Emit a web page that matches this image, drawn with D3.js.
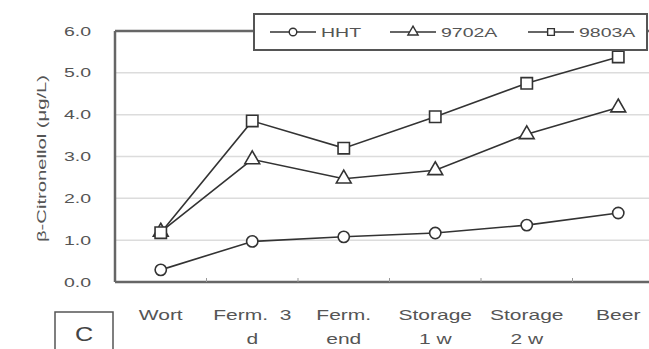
<!DOCTYPE html>
<html>
<head>
<meta charset="utf-8">
<script src="https://cdn.jsdelivr.net/npm/d3@7"></script>
<style>
  body { margin: 0; background: #fff; }
  svg { display: block; }
</style>
</head>
<body>
<script>
var categories = [["Wort"], ["Ferm.  3", "d"], ["Ferm.", "end"], ["Storage", "1 w"], ["Storage", "2 w"], ["Beer"]];
var catKeys = ["Wort", "Ferm3d", "FermEnd", "Storage1w", "Storage2w", "Beer"];
var hht = [0.29, 0.97, 1.08, 1.17, 1.36, 1.65];
var a9702 = [1.2, 2.93, 2.47, 2.67, 3.53, 4.17];
var a9803 = [1.18, 3.85, 3.2, 3.95, 4.75, 5.38];
var yTicks = [0, 1, 2, 3, 4, 5, 6];

var seriesList = [
    { name: "HHT", values: hht, shape: "circle" },
    { name: "9702A", values: a9702, shape: "triangle" },
    { name: "9803A", values: a9803, shape: "square" }
];

var width = 649, height = 349;
var plotLeft = 115, plotTop = 31, plotBottom = 282, plotRight = 664;
var stretch = 1.5; // text in the picture is drawn wide

const svg = d3.select("body").append("svg")
    .attr("width", width)
    .attr("height", height)
    .attr("font-family", "Liberation Sans, Arial, sans-serif");

var x = d3.scaleBand().domain(catKeys).range([plotLeft, plotRight]);
var y = d3.scaleLinear().domain([0, 6]).range([plotBottom, plotTop]);
var cx = (d, i) => x(catKeys[i]) + x.bandwidth() / 2;

// grid
svg.append("g").selectAll("line")
    .data(yTicks.slice(1))
    .enter().append("line")
    .attr("x1", plotLeft).attr("x2", width)
    .attr("y1", d => y(d)).attr("y2", d => y(d))
    .attr("stroke", "#dcdcdc")
    .attr("stroke-width", 1.5);

// y axis
svg.append("line")
    .attr("x1", plotLeft).attr("x2", plotLeft)
    .attr("y1", plotTop).attr("y2", plotBottom)
    .attr("stroke", "#666").attr("stroke-width", 2.5);
svg.append("g").selectAll("text")
    .data(yTicks)
    .enter().append("text")
    .attr("transform", d => `translate(91,${y(d) + 4.5}) scale(${stretch},1)`)
    .attr("text-anchor", "end")
    .attr("font-size", 13)
    .attr("fill", "#555")
    .text(d3.format(".1f"));

// top border
svg.append("line")
    .attr("x1", plotLeft).attr("x2", width)
    .attr("y1", plotTop).attr("y2", plotTop)
    .attr("stroke", "#666").attr("stroke-width", 2.5);

// x axis
var xTickPos = d3.range(catKeys.length + 1).map(i => plotLeft + i * x.bandwidth());
svg.append("line")
    .attr("x1", plotLeft).attr("x2", width)
    .attr("y1", plotBottom).attr("y2", plotBottom)
    .attr("stroke", "#666").attr("stroke-width", 2.5);
svg.append("g").selectAll("line")
    .data(xTickPos.slice(1))
    .enter().append("line")
    .attr("x1", d => d).attr("x2", d => d)
    .attr("y1", plotBottom - 4).attr("y2", plotBottom)
    .attr("stroke", "#999").attr("stroke-width", 1);

var xLabels = svg.append("g").selectAll("text")
    .data(categories)
    .enter().append("text")
    .attr("text-anchor", "middle")
    .attr("font-size", 14)
    .attr("fill", "#555")
    .style("white-space", "pre")
    .attr("transform", (d, i) => `translate(${cx(d, i)},320) scale(${stretch},1)`);
xLabels.selectAll("tspan")
    .data(d => d)
    .enter().append("tspan")
    .attr("x", 0)
    .attr("dy", (d, i) => i === 0 ? 0 : 24)
    .text(d => d);

// y label
svg.append("text")
    .attr("transform", `translate(46,${(plotTop + plotBottom) / 2 + 2}) rotate(-90) scale(${stretch},1)`)
    .attr("text-anchor", "middle")
    .attr("font-size", 13.5)
    .attr("fill", "#555")
    .text("β-Citronellol (μg/L)");

// lines
var line = d3.line()
    .x(cx)
    .y(d => y(d));

svg.append("g").selectAll("path")
    .data(seriesList)
    .enter().append("path")
    .attr("d", d => line(d.values))
    .attr("fill", "none")
    .attr("stroke", "#333")
    .attr("stroke-width", 1.6);

function symbolType(shape) {
    return shape === "circle" ? d3.symbolCircle : shape === "triangle" ? d3.symbolTriangle : d3.symbolSquare;
}
var symbolSize = { circle: 100, triangle: 95, square: 130 };

seriesList.forEach(function (s) {
    svg.append("g").selectAll("path")
        .data(s.values)
        .enter().append("path")
        .attr("d", d3.symbol().type(symbolType(s.shape)).size(symbolSize[s.shape])())
        .attr("transform", (d, i) => `translate(${cx(d, i)},${y(d)})`)
        .attr("fill", "#fff")
        .attr("stroke", "#333")
        .attr("stroke-width", 1.6);
});

// legend
var legend = svg.append("g");
legend.append("rect")
    .attr("x", 254).attr("y", 14)
    .attr("width", 393).attr("height", 36)
    .attr("fill", "#fff")
    .attr("stroke", "#555")
    .attr("stroke-width", 2);
var legendX = [270, 390, 528];
var items = legend.selectAll("g.item")
    .data(seriesList)
    .enter().append("g")
    .attr("transform", (d, i) => `translate(${legendX[i]},32)`);
items.append("line")
    .attr("x1", 0).attr("x2", 46)
    .attr("stroke", "#333").attr("stroke-width", 1.6);
items.append("path")
    .attr("d", d => d3.symbol().type(symbolType(d.shape)).size(45)())
    .attr("transform", "translate(23,0)")
    .attr("fill", "#fff")
    .attr("stroke", "#333")
    .attr("stroke-width", 1.4);
items.append("text")
    .attr("transform", `translate(51,5) scale(${stretch},1)`)
    .attr("font-size", 13)
    .attr("fill", "#555")
    .text(d => d.name);

// panel label
svg.append("rect")
    .attr("x", 55).attr("y", 312)
    .attr("width", 58).attr("height", 45)
    .attr("fill", "#fff")
    .attr("stroke", "#555")
    .attr("stroke-width", 1.5);
svg.append("text")
    .attr("transform", "translate(84,341) scale(1.2,1)")
    .attr("text-anchor", "middle")
    .attr("font-size", 21)
    .attr("fill", "#444")
    .text("C");
</script>
</body>
</html>
